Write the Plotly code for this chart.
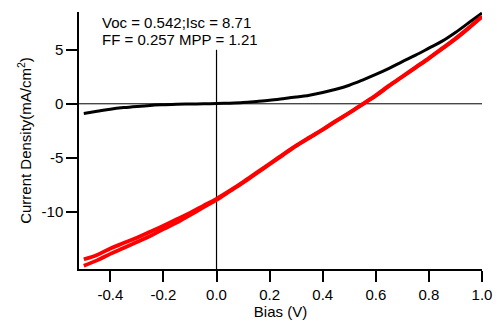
import plotly.graph_objects as go

# Dark current (black)
bias_dark = [-0.5, -0.45, -0.4, -0.35, -0.3, -0.25, -0.2, -0.15, -0.1, -0.05, 0.0, 0.05, 0.1, 0.15, 0.2,
             0.25, 0.3, 0.35, 0.4, 0.45, 0.5, 0.55, 0.6, 0.65, 0.7, 0.75, 0.8, 0.85, 0.9, 0.95, 1.0]
j_dark = [-0.9, -0.7, -0.5, -0.35, -0.24, -0.15, -0.09, -0.04, -0.02, 0.0, 0.02, 0.06, 0.12, 0.22, 0.33,
          0.47, 0.62, 0.8, 1.05, 1.35, 1.72, 2.2, 2.72, 3.28, 3.9, 4.5, 5.15, 5.8, 6.6, 7.5, 8.4]

# Illuminated current (red), forward and reverse scans
bias_light = [-0.5, -0.45, -0.4, -0.35, -0.3, -0.25, -0.2, -0.15, -0.1, -0.05, 0.0, 0.05, 0.1, 0.15, 0.2,
              0.25, 0.3, 0.35, 0.4, 0.45, 0.5, 0.55, 0.6, 0.65, 0.7, 0.75, 0.8, 0.85, 0.9, 0.95, 1.0]
j_light_fwd = [-15.0, -14.5, -13.9, -13.35, -12.8, -12.25, -11.6, -11.0, -10.3, -9.6, -8.9, -8.1, -7.3, -6.45, -5.6,
               -4.75, -3.9, -3.15, -2.4, -1.6, -0.85, -0.05, 0.75, 1.65, 2.5, 3.35, 4.2, 5.1, 6.0, 7.0, 8.05]
j_light_rev = [-14.4, -14.0, -13.4, -12.9, -12.4, -11.85, -11.3, -10.7, -10.1, -9.45, -8.8, -8.05, -7.25, -6.4, -5.55,
               -4.7, -3.88, -3.12, -2.38, -1.58, -0.83, -0.03, 0.78, 1.68, 2.53, 3.38, 4.23, 5.13, 6.05, 7.05, 8.1]

x_ticks = [-0.4, -0.2, 0.0, 0.2, 0.4, 0.6, 0.8, 1.0]
x_tick_labels = ["-0.4", "-0.2", "0.0", "0.2", "0.4", "0.6", "0.8", "1.0"]
y_ticks = [-10, -5, 0, 5]
y_tick_labels = ["-10", "-5", "0", "5"]
info_lines = ["Voc = 0.542;Isc = 8.71", "FF = 0.257 MPP = 1.21"]

FONT = "Liberation Sans, Arial, sans-serif"
FS = 15

fig = go.Figure()
fig.add_trace(go.Scatter(x=bias_dark, y=j_dark, mode="lines",
                         line=dict(color="black", width=3, shape="spline"), showlegend=False))
fig.add_trace(go.Scatter(x=bias_light, y=j_light_fwd, mode="lines",
                         line=dict(color="#ff0000", width=3.8, shape="spline"), showlegend=False))
fig.add_trace(go.Scatter(x=bias_light, y=j_light_rev, mode="lines",
                         line=dict(color="#ff0000", width=3.8, shape="spline"), showlegend=False))

xr = [-0.518, 1.0]
yr = [-15.3, 8.5]

fig.add_shape(type="line", x0=xr[0], x1=1.0, y0=0, y1=0, xref="x", yref="y",
              line=dict(color="black", width=1), layer="below")
fig.add_shape(type="line", x0=0, x1=0, y0=yr[0], y1=5.0, xref="x", yref="y",
              line=dict(color="black", width=1.2), layer="below")

# two text lines, tightly spaced as in the reference
for txt, yy in zip(info_lines, [7.55, 5.95]):
    fig.add_annotation(x=-0.435, y=yy, xref="x", yref="y", xanchor="left", yanchor="middle",
                       text=txt, showarrow=False, align="left", bgcolor="white", borderpad=0,
                       font=dict(family=FONT, size=FS, color="black"))

fig.update_layout(
    width=504, height=327,
    margin=dict(l=79, r=12, t=12, b=52),
    paper_bgcolor="white", plot_bgcolor="white",
    font=dict(family=FONT, size=FS, color="black"),
    xaxis=dict(range=xr, tickvals=x_ticks, ticktext=x_tick_labels, showgrid=False, zeroline=False,
               showline=True, linecolor="black", linewidth=1.5, ticks="outside", ticklen=11,
               tickwidth=1.5, tickcolor="black", tickfont=dict(size=FS),
               title=dict(text="Bias (V)", standoff=2, font=dict(size=FS))),
    yaxis=dict(range=yr, tickvals=y_ticks, ticktext=y_tick_labels, showgrid=False, zeroline=False,
               showline=True, linecolor="black", linewidth=1.5, ticks="outside", ticklen=11,
               tickwidth=1.5, tickcolor="black", tickfont=dict(size=FS),
               title=dict(text="Current Density(mA/cm<sup>2</sup>)", standoff=6, font=dict(size=FS))),
)

fig.write_html("out.html")
